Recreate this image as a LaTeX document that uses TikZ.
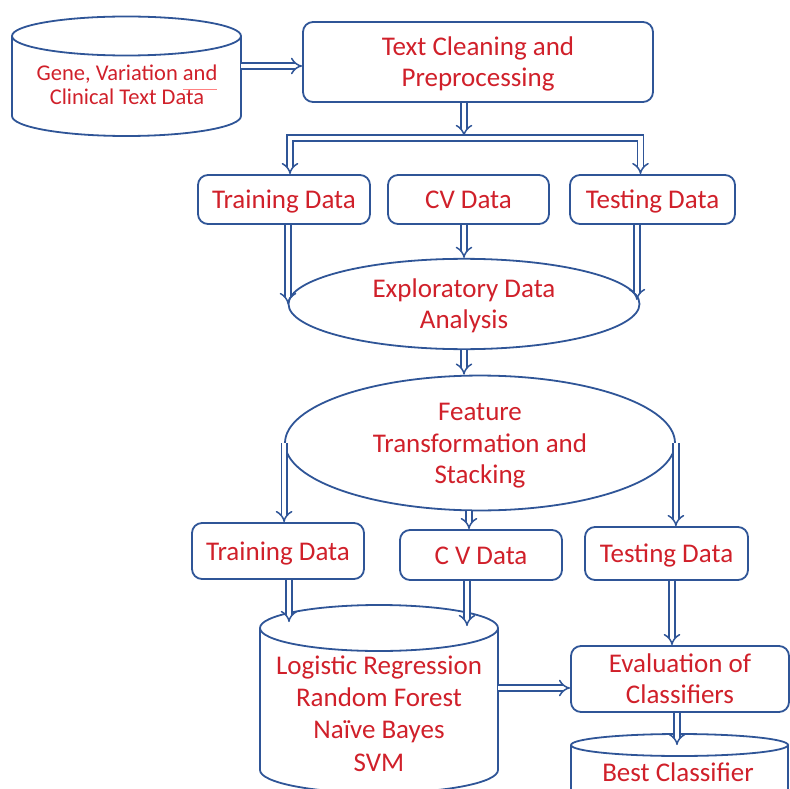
\documentclass[tikz,border=0pt]{standalone}
\usepackage{fontspec}
\setmainfont{Carlito}
\usetikzlibrary{arrows.meta,calc,shapes.geometric}
\definecolor{edge}{HTML}{2F5597}
\definecolor{ink}{HTML}{D0202A}
% struts that give every label the same line box
\newcommand{\topstrut}{\rule{0pt}{0.94em}}
\newcommand{\botstrut}{\rule[-0.26em]{0pt}{0.26em}}
\begin{document}
\begin{tikzpicture}[x=1pt,y=-1pt,
  shp/.style={draw=edge, line width=1.8pt},
  txt/.style={align=center, text=ink, inner sep=0pt},
  box/.style={shp, txt, rounded corners=10pt, font=\fontsize{27}{31.5}\selectfont},
  oval/.style={shp, txt, ellipse, font=\fontsize{27}{31.5}\selectfont},
  label/.style={txt, draw=none},
  dar/.style={draw=edge, double=white, double distance=4.2pt, line width=1.5pt, -{Implies}},
  dbar/.style={draw=edge, double=white, double distance=4.2pt, line width=1.5pt}]
\useasboundingbox (0,0) rectangle (790,789);
\clip (0,0) rectangle (790,789);

% source data store
\draw[shp] (12,36) -- (12,116) arc[start angle=180, end angle=0, x radius=114.5, y radius=20] -- (241,36);
\draw[shp] (126.5,36) ellipse [x radius=114.5, y radius=19.5];
\node[label, font=\fontsize{22.5}{24}\selectfont] (src) at (127,85) {\topstrut Gene, Variation and\\ Clinical Text Data\botstrut};
\draw[red!50, line width=1pt] (183,90) -- (217,90);

% preprocessing
\node[box, minimum width=350pt, minimum height=80pt] (tc) at (478,62) {\topstrut Text Cleaning and\\Preprocessing\botstrut};

% first split
\node[box, minimum width=172pt, minimum height=49pt] (tr1) at (284,199.5) {\topstrut Training Data\botstrut};
\node[box, minimum width=161pt, minimum height=49pt] (cv1) at (468.5,199.5) {\topstrut CV Data\botstrut};
\node[box, minimum width=165pt, minimum height=49pt] (te1) at (652.5,199.5) {\topstrut Testing Data\botstrut};

\node[oval, minimum width=351pt, minimum height=72pt] (eda) at (464,304) {\topstrut Exploratory Data\\Analysis\botstrut};
\node[oval, minimum width=390pt, minimum height=108pt] (fts) at (480,443) {\topstrut Feature\\Transformation and\\Stacking\botstrut};

% second split
\node[box, minimum width=172pt, minimum height=56pt] (tr2) at (278,551) {\topstrut Training Data\botstrut};
\node[box, minimum width=162pt, minimum height=50pt] (cv2) at (481,555) {\topstrut C V Data\botstrut};
\node[box, minimum width=163pt, minimum height=53pt] (te2) at (666.5,553.5) {\topstrut Testing Data\botstrut};

% model store
\draw[shp] (260,628) -- (260,770) arc[start angle=180, end angle=0, x radius=119, y radius=23] -- (498,628);
\draw[shp] (379,628) ellipse [x radius=119, y radius=23];
\node[label, font=\fontsize{27}{32.3}\selectfont] (lr) at (379,713.5) {\topstrut Logistic Regression\\Random Forest\\Naïve Bayes\\SVM\botstrut};
\coordinate (lrtop) at (379,622);
\coordinate (lrside) at (498,688);

\node[box, minimum width=218pt, minimum height=66pt] (ev) at (680,679) {\topstrut Evaluation of\\Classifiers\botstrut};

% result store
\draw[shp] (571,745) -- (571,800) (788,745) -- (788,800);
\draw[shp] (679.5,745) ellipse [x radius=108.5, y radius=11];
\node[label, font=\fontsize{27}{31.5}\selectfont] (bc) at (678,772) {\topstrut Best Classifier\botstrut};
\coordinate (bctop) at (679.5,745);

% connectors
\draw[dar] (241,66) -- (241,66 -| tc.west);
\coordinate (bj) at (464,136);
\draw[dar] (tc.south -| bj) -- (bj);
\draw[dbar, {Implies}-{Implies}] ([xshift=6pt]tr1.north) |- ([yshift=-2pt]bj) -| ([xshift=-12pt]te1.north);
\draw[dar] ([xshift=4pt]tr1.south) -- ([xshift=4pt]tr1.south |- eda.west);
\draw[dar] (eda.north |- cv1.south) -- (eda.north);
\draw[dar] ([xshift=-3.5pt]eda.east |- te1.south) -- ([xshift=-3.5pt,yshift=4pt]eda.east);
\draw[dar] (eda.south) -- (eda.south |- fts.north);
\draw[dar] (fts.west) -- (fts.west |- tr2.north);
\draw[dar] ([xshift=-11pt]fts.south) -- ([xshift=-11pt]fts.south |- cv2.north);
\draw[dar] (fts.east) -- (fts.east |- te2.north);
\draw[dar] ([xshift=11pt]tr2.south) -- ([xshift=11pt]tr2.south |- lrtop);
\draw[dar] ([xshift=-14pt]cv2.south) -- ([xshift=-14pt,yshift=-4pt]cv2.south |- lrtop);
\draw[dar] ([xshift=5.5pt]te2.south) -- ([xshift=5.5pt]te2.south |- ev.north);
\draw[dar] (lrside) -- (lrside -| ev.west);
\draw[dar] ([xshift=-3pt]ev.south) -- ([xshift=-3pt]ev.south |- bctop);
\end{tikzpicture}
\end{document}
